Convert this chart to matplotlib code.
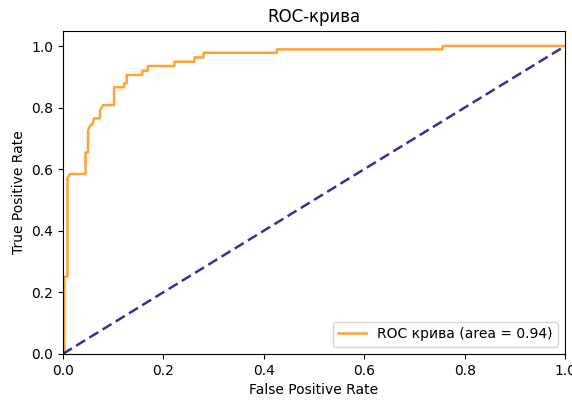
import matplotlib
matplotlib.use("Agg")
import matplotlib.pyplot as plt

# точки ROC-кривої
fpr = [0.0, 0.003, 0.003, 0.009, 0.009, 0.014, 0.045, 0.045, 0.050, 0.050,
       0.055, 0.058, 0.062, 0.074, 0.074, 0.080, 0.102, 0.102, 0.107, 0.122,
       0.122, 0.127, 0.127, 0.158, 0.158, 0.169, 0.169, 0.222, 0.222, 0.262,
       0.262, 0.280, 0.280, 0.426, 0.426, 0.756, 0.756, 1.0]
tpr = [0.0, 0.0, 0.251, 0.251, 0.570, 0.584, 0.584, 0.654, 0.654, 0.727,
       0.743, 0.743, 0.765, 0.765, 0.792, 0.808, 0.808, 0.866, 0.866, 0.866,
       0.879, 0.879, 0.906, 0.906, 0.920, 0.920, 0.935, 0.935, 0.949, 0.949,
       0.963, 0.963, 0.978, 0.978, 0.989, 0.989, 1.0, 1.0]
roc_auc = 0.94

diag = [0, 1]

fig = plt.figure(figsize=(5.72, 4.03), dpi=100)
ax = fig.add_axes([0.110, 0.122, 0.878, 0.802])
ax.plot(fpr, tpr, color='darkorange', lw=1.8, alpha=0.8,
        label='ROC крива (area = %0.2f)' % roc_auc)
ax.plot(diag, diag, color='navy', lw=1.8, linestyle='--', alpha=0.8,
        dashes=(4.2, 2.0))
ax.set_xlim([0.0, 1.0])
ax.set_ylim([0.0, 1.05])
ax.set_xlabel('False Positive Rate')
ax.set_ylabel('True Positive Rate')
ax.set_title('ROC-крива')
ax.legend(loc='lower right')
fig.savefig('out.png', dpi=100)
